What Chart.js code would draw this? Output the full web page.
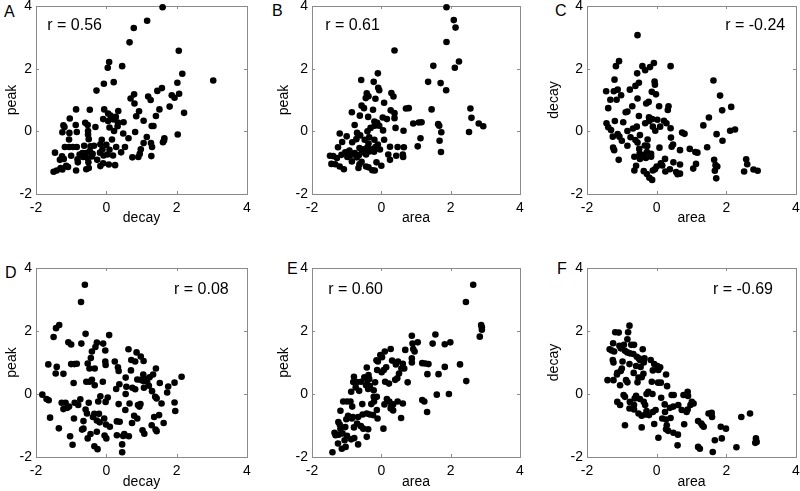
<!DOCTYPE html>
<html><head><meta charset="utf-8">
<script src="https://cdn.jsdelivr.net/npm/chart.js@4/dist/chart.umd.min.js"></script>
<style>
html,body{margin:0;padding:0;background:#fff;}
body{width:800px;height:491px;position:relative;overflow:hidden;font-family:"Liberation Sans",Arial,Helvetica,sans-serif;}
canvas{position:absolute;}
.letter{position:absolute;font-size:16px;line-height:16px;color:#000;}
</style></head>
<body>
<div class="letter" style="left:4px;top:4px">A</div>
<div class="letter" style="left:272px;top:3px">B</div>
<div class="letter" style="left:555px;top:3px">C</div>
<div class="letter" style="left:5px;top:265px">D</div>
<div class="letter" style="left:287px;top:261px">E</div>
<div class="letter" style="left:557px;top:261px">F</div>
<canvas id="cA"></canvas><canvas id="cB"></canvas><canvas id="cC"></canvas>
<canvas id="cD"></canvas><canvas id="cE"></canvas><canvas id="cF"></canvas>
<script>
// ---- data ----
const tickValues = [-2, 0, 2, 4];
const tickLabels = ['-2', '0', '2', '4'];
const axisNames = ['decay', 'area', 'peak'];
const rValues = ['r = 0.56', 'r = 0.61', 'r = -0.24', 'r = 0.08', 'r = 0.60', 'r = -0.69'];

// A: decay (x) vs peak (y)
const ptsA = [[1.60,3.96],[1.16,3.53],[0.78,3.30],[0.66,2.84],[2.06,2.57],[0.08,2.21],[0.45,2.08],[0.04,2.03],[2.16,1.84],[3.04,1.62],[0.21,1.57],[-0.07,1.52],[2.02,1.55],[-0.28,1.30],[1.58,1.38],[1.45,1.29],[2.07,1.20],[0.79,1.18],[0.69,1.05],[1.19,1.11],[1.26,1.00],[1.86,1.15],[1.94,1.07],[0.80,0.89],[1.80,0.79],[1.51,0.70],[0.93,0.64],[2.21,0.59],[0.85,0.48],[1.41,0.49],[1.06,0.34],[-0.86,0.70],[-0.47,0.69],[-0.06,0.70],[0.34,0.65],[0.05,0.57],[0.12,0.50],[0.27,0.46],[-1.04,0.41],[-0.09,0.39],[0.05,0.33],[0.21,0.38],[-1.22,0.19],[-1.19,0.14],[-0.87,0.20],[-0.60,0.27],[-0.53,0.20],[-0.31,0.14],[0.09,0.12],[0.32,0.16],[0.49,0.29],[0.33,0.28],[1.34,0.17],[1.29,0.17],[-1.25,-0.03],[-1.05,-0.05],[-0.84,-0.02],[-0.52,0.01],[-0.52,-0.10],[0.22,0.01],[0.48,-0.07],[0.82,-0.02],[0.63,-0.22],[1.15,-0.18],[1.65,-0.22],[2.03,-0.10],[1.64,-0.29],[1.61,-0.35],[-1.06,-0.26],[-0.50,-0.25],[-0.13,-0.27],[0.16,-0.26],[1.06,-0.37],[1.27,-0.37],[-1.18,-0.50],[-1.06,-0.50],[-0.95,-0.50],[-0.84,-0.50],[-0.63,-0.46],[-0.45,-0.48],[-0.35,-0.46],[-0.17,-0.41],[0.00,-0.43],[-0.11,-0.57],[0.09,-0.59],[0.28,-0.50],[0.53,-0.50],[0.98,-0.57],[1.30,-0.50],[-1.46,-0.68],[-1.26,-0.80],[-1.00,-0.78],[-0.76,-0.74],[-0.68,-0.69],[-0.58,-0.69],[-0.47,-0.63],[-0.39,-0.72],[-0.18,-0.68],[-0.08,-0.77],[0.03,-0.74],[0.19,-0.77],[0.42,-0.67],[0.95,-0.72],[0.74,-0.83],[0.91,-0.82],[1.28,-0.79],[-1.32,-0.91],[-1.21,-0.88],[-0.82,-0.89],[-0.66,-0.82],[-0.53,-0.86],[-0.41,-0.80],[-0.26,-0.91],[-0.81,-0.99],[-0.51,-0.99],[-0.09,-1.02],[0.07,-1.06],[0.25,-1.08],[-1.14,-1.10],[-1.09,-1.14],[-1.25,-1.22],[-1.41,-1.25],[-1.50,-1.29],[-0.86,-1.25],[-0.57,-1.21],[-0.50,-1.17],[-0.17,-1.11],[-1.30,-1.17]];

// B: area (x) vs peak (y)
const ptsB = [[1.88,3.96],[2.09,3.55],[2.14,3.31],[1.88,2.85],[0.38,2.58],[2.24,2.23],[1.50,2.09],[2.12,2.03],[-0.10,1.85],[-0.58,1.64],[-0.22,1.58],[1.35,1.58],[1.71,1.54],[-0.09,1.39],[-0.06,1.31],[1.87,1.31],[-0.42,1.21],[-0.37,1.12],[0.29,1.22],[0.35,1.11],[-0.17,1.04],[-0.45,1.06],[0.08,0.91],[-0.57,0.82],[-0.50,0.74],[-0.24,0.69],[-0.85,0.61],[0.27,0.67],[0.71,0.73],[0.79,0.74],[1.45,0.70],[2.57,0.73],[-0.62,0.50],[0.38,0.58],[0.38,0.42],[-0.38,0.46],[0.04,0.44],[0.16,0.39],[2.60,0.43],[-0.20,0.31],[-0.12,0.27],[-0.19,0.18],[-0.77,0.20],[-0.06,0.18],[0.92,0.25],[1.08,0.28],[1.16,0.29],[1.64,0.23],[1.67,0.18],[2.81,0.25],[2.94,0.16],[0.41,0.11],[0.64,0.02],[-0.40,0.00],[-0.31,0.11],[0.05,0.03],[2.53,-0.02],[1.73,-0.03],[-1.20,-0.07],[-1.00,-0.16],[-0.70,-0.05],[-0.48,-0.27],[-0.72,-0.25],[-0.61,-0.13],[-0.35,-0.19],[-0.20,-0.27],[0.08,-0.27],[1.13,-0.22],[1.68,-0.30],[-1.13,-0.34],[-0.84,-0.35],[-0.37,-0.39],[-0.10,-0.42],[0.25,-0.49],[0.47,-0.50],[0.65,-0.51],[1.05,-0.48],[-1.25,-0.51],[-0.63,-0.53],[-0.50,-0.57],[-0.40,-0.51],[-0.27,-0.57],[-0.17,-0.50],[-0.04,-0.58],[-0.92,-0.61],[-1.04,-0.67],[-0.77,-0.69],[-0.56,-0.67],[-0.35,-0.64],[-0.21,-0.65],[1.72,-0.66],[0.20,-0.74],[0.43,-0.78],[0.63,-0.82],[0.62,-0.74],[-1.15,-0.75],[-0.87,-0.75],[-0.65,-0.76],[-0.44,-0.74],[-1.48,-0.78],[-1.39,-0.79],[-0.98,-0.82],[-0.71,-0.83],[0.25,-0.91],[-1.28,-0.85],[-0.57,-0.97],[-0.14,-0.99],[-1.44,-1.04],[-1.33,-1.05],[-1.20,-1.12],[-1.08,-1.21],[-0.66,-1.17],[-0.44,-1.12],[-0.37,-1.15],[-0.26,-1.24],[-0.19,-1.25],[-0.85,-0.96],[-0.63,-1.05],[0.00,-1.10]];

// C: area (x) vs decay (y)
const ptsC = [[-0.55,3.07],[-1.08,2.24],[-1.17,2.08],[-0.41,2.08],[-0.19,2.05],[-0.08,2.18],[0.40,2.08],[-0.33,1.95],[-0.56,1.85],[-1.21,1.65],[-0.51,1.55],[-0.06,1.59],[-0.05,1.49],[1.63,1.62],[-0.61,1.45],[-1.45,1.28],[-1.23,1.28],[-1.12,1.33],[-0.77,1.33],[-1.02,1.15],[-0.14,1.26],[-0.02,1.18],[1.82,1.14],[-1.33,1.01],[-1.15,1.01],[-0.55,1.05],[-0.30,0.89],[-0.23,0.94],[-1.39,0.74],[-0.70,0.80],[0.07,0.80],[0.34,0.80],[0.32,0.68],[2.14,0.78],[1.88,0.67],[-0.84,0.63],[-0.89,0.61],[-0.51,0.49],[-0.22,0.45],[1.50,0.44],[-1.20,0.33],[-0.96,0.29],[-1.44,0.26],[-0.22,0.33],[-0.33,0.26],[-0.13,0.39],[0.02,0.37],[0.21,0.34],[0.28,0.26],[1.34,0.19],[-1.39,0.13],[-0.57,0.15],[-0.11,0.15],[0.10,0.15],[0.40,0.10],[-1.31,0.04],[-0.84,0.01],[-0.68,0.09],[-0.04,0.02],[2.11,0.02],[2.25,0.06],[0.73,-0.04],[0.80,-0.08],[1.72,-0.09],[-1.12,-0.09],[-1.07,-0.17],[-1.26,-0.17],[-0.48,-0.12],[0.41,-0.20],[1.89,-0.30],[-1.00,-0.30],[-0.75,-0.19],[-0.61,-0.28],[-0.26,-0.26],[-0.84,-0.46],[-0.55,-0.36],[-0.34,-0.45],[-0.27,-0.47],[0.43,-0.49],[0.47,-0.42],[-1.25,-0.52],[-1.22,-0.60],[-0.50,-0.56],[0.08,-0.52],[0.67,-0.60],[0.95,-0.56],[1.11,-0.66],[1.17,-0.68],[1.45,-0.51],[-0.49,-0.72],[-0.38,-0.75],[-0.28,-0.66],[-0.16,-0.72],[-1.09,-0.91],[-0.64,-0.81],[-0.48,-0.88],[-0.31,-0.85],[-0.16,-0.81],[0.24,-0.88],[1.65,-0.91],[2.57,-0.89],[0.12,-1.02],[0.16,-1.09],[0.48,-0.99],[0.67,-1.06],[1.13,-1.04],[-0.59,-1.10],[0.00,-1.12],[1.69,-1.08],[2.60,-1.05],[1.74,-1.12],[-0.05,-1.21],[0.38,-1.21],[0.56,-1.30],[0.60,-1.37],[0.67,-1.35],[-0.11,-1.25],[-0.64,-1.25],[-0.37,-1.27],[-0.28,-1.36],[-0.21,-1.48],[-0.13,-1.55],[0.25,-1.28],[1.05,-1.19],[1.67,-1.26],[1.71,-1.50],[2.51,-1.28],[2.78,-1.22],[2.90,-1.26]];

// D: decay (x) vs peak (y)
const ptsD = [[-0.61,3.47],[-0.72,2.92],[-1.34,2.19],[-1.43,2.09],[-1.50,1.81],[-0.59,1.91],[0.08,1.87],[-0.71,1.60],[-1.08,1.64],[-1.00,1.57],[-0.27,1.63],[-0.09,1.60],[-0.31,1.49],[-0.41,1.35],[-0.03,1.38],[0.63,1.42],[0.86,1.32],[-0.44,1.14],[0.98,1.19],[0.71,1.08],[0.82,1.03],[1.06,1.05],[-1.65,0.94],[-1.00,0.95],[-0.91,0.95],[-0.84,0.96],[-0.53,0.97],[-0.03,1.03],[-0.02,0.92],[0.24,1.03],[-1.41,0.86],[-0.33,0.81],[-0.48,0.81],[0.33,0.85],[0.35,0.73],[0.70,0.75],[1.41,0.81],[-1.44,0.65],[-1.22,0.64],[1.05,0.62],[1.33,0.62],[2.14,0.55],[1.23,0.53],[-0.41,0.45],[-0.57,0.39],[-0.48,0.39],[-0.10,0.39],[0.55,0.52],[0.88,0.46],[0.97,0.45],[1.05,0.41],[1.07,0.50],[1.16,0.39],[1.52,0.35],[1.94,0.36],[-0.93,0.35],[-0.33,0.28],[0.37,0.31],[0.57,0.23],[0.74,0.20],[0.82,0.15],[1.07,0.20],[1.21,0.26],[1.76,0.24],[1.73,0.05],[0.28,0.16],[1.30,0.09],[-1.82,-0.02],[-1.70,-0.16],[-1.64,-0.20],[-0.17,-0.07],[0.04,-0.11],[0.55,0.00],[1.39,-0.09],[1.43,-0.14],[-0.74,-0.17],[-0.50,-0.28],[-0.23,-0.24],[-0.02,-0.25],[-1.27,-0.28],[-1.16,-0.28],[-0.90,-0.28],[-0.80,-0.35],[0.35,-0.32],[0.66,-0.30],[0.97,-0.32],[1.57,-0.30],[1.94,-0.27],[-1.22,-0.48],[-1.11,-0.44],[-1.06,-0.40],[-0.59,-0.49],[-0.55,-0.62],[-0.34,-0.63],[-0.21,-0.63],[0.90,-0.35],[0.94,-0.40],[1.96,-0.54],[0.54,-0.51],[-1.60,-0.75],[-0.92,-0.78],[-0.38,-0.73],[-0.06,-0.78],[0.79,-0.69],[0.88,-0.78],[1.36,-0.73],[1.50,-0.67],[1.63,-0.92],[-0.65,-0.86],[-0.27,-0.84],[-0.19,-0.90],[0.30,-0.87],[0.38,-0.88],[0.73,-0.92],[-0.01,-0.97],[0.10,-1.04],[-0.65,-1.10],[-0.69,-1.13],[-1.35,-1.09],[1.29,-0.99],[1.40,-1.13],[1.43,-1.18],[1.03,-1.15],[1.08,-1.26],[-0.45,-1.27],[-0.27,-1.20],[-0.05,-1.32],[0.00,-1.41],[0.30,-1.31],[0.48,-1.33],[0.51,-1.27],[0.64,-1.34],[-1.03,-1.34],[-0.53,-1.41],[-0.96,-1.61],[-0.34,-1.66],[-0.25,-1.75],[0.45,-1.60],[0.45,-1.85]];

// E: area (x) vs peak (y)
const ptsE = [[2.65,3.47],[2.44,2.92],[2.88,2.19],[2.90,2.12],[2.90,2.04],[2.84,1.82],[1.56,1.89],[1.99,1.64],[1.48,1.60],[1.83,1.58],[0.88,1.85],[1.05,1.64],[0.90,1.60],[0.92,1.43],[0.96,1.35],[0.69,1.40],[0.27,1.43],[0.10,1.35],[-0.03,1.24],[0.02,1.17],[-0.14,1.07],[-0.10,1.03],[0.31,1.06],[0.48,1.03],[0.42,0.94],[0.62,0.96],[0.88,1.13],[0.88,1.00],[1.18,0.98],[1.27,0.97],[1.36,0.95],[2.27,0.94],[1.83,0.86],[-0.42,0.84],[0.07,0.76],[-0.12,0.76],[0.66,0.81],[0.58,0.81],[0.14,0.85],[0.01,0.69],[1.33,0.63],[1.65,0.63],[0.51,0.65],[-0.37,0.60],[-0.49,0.53],[-0.79,0.55],[-0.35,0.48],[-0.40,0.44],[0.40,0.45],[0.46,0.50],[0.11,0.39],[0.22,0.33],[-0.70,0.38],[-0.81,0.38],[-0.58,0.39],[-0.18,0.37],[0.76,0.37],[2.45,0.41],[-0.44,0.28],[-0.33,0.25],[-0.74,0.21],[-0.64,0.10],[-0.87,0.07],[-0.38,0.16],[-0.22,0.12],[1.60,-0.02],[1.95,0.00],[-0.22,-0.09],[-0.13,-0.09],[0.16,-0.16],[-1.10,-0.24],[-0.99,-0.24],[-0.89,-0.24],[-0.84,-0.40],[-0.55,-0.32],[-0.29,-0.32],[-0.21,-0.24],[0.09,-0.33],[0.23,-0.24],[0.34,-0.33],[0.47,-0.24],[0.62,-0.30],[1.18,-0.19],[1.24,-0.24],[0.27,-0.46],[0.34,-0.52],[0.28,-0.41],[-0.13,-0.51],[-1.18,-0.53],[-0.96,-0.69],[-1.01,-0.80],[-0.82,-0.73],[-0.85,-0.78],[-0.67,-0.73],[-0.54,-0.65],[-0.42,-0.62],[-0.33,-0.65],[-0.24,-0.67],[-0.11,-0.78],[0.57,-0.76],[1.32,-0.57],[-1.24,-0.89],[-1.20,-0.97],[-1.18,-1.10],[-1.04,-1.05],[-0.79,-1.06],[-0.70,-0.94],[-0.59,-1.02],[-0.52,-1.10],[-0.38,-1.12],[0.06,-1.10],[-1.35,-1.23],[-1.32,-1.31],[-1.23,-1.29],[-1.12,-1.25],[-0.99,-1.33],[-1.06,-1.47],[-0.87,-1.44],[-0.78,-1.40],[-0.42,-1.36],[-1.25,-1.57],[-1.14,-1.74],[-1.03,-1.68],[-0.67,-1.60],[-1.41,-1.85]];

// F: area (x) vs decay (y)
const ptsF = [[-0.78,2.17],[-1.19,1.96],[-1.09,1.95],[-0.82,1.96],[-1.25,1.61],[-0.84,1.74],[-0.94,1.56],[-0.73,1.56],[-1.07,1.53],[-1.35,1.42],[-1.29,1.38],[-1.22,1.35],[-1.03,1.45],[-0.91,1.37],[-0.84,1.32],[-0.65,1.56],[-0.67,1.27],[-0.77,1.29],[-0.57,1.18],[-0.40,1.42],[-0.48,1.08],[-0.51,1.13],[-0.35,1.13],[-0.37,1.00],[-0.17,1.08],[-1.26,1.08],[-1.24,1.00],[-0.98,1.03],[-0.78,0.95],[-0.07,0.95],[0.02,0.89],[0.10,0.85],[-1.00,0.81],[-0.59,0.89],[-0.46,0.86],[0.05,0.76],[-0.11,0.75],[-1.03,0.73],[-1.13,0.67],[-0.66,0.67],[-0.38,0.64],[-1.14,0.62],[0.27,0.62],[-0.52,0.52],[-0.43,0.53],[-1.24,0.44],[-1.41,0.44],[-0.88,0.44],[-0.84,0.37],[-0.55,0.37],[-0.14,0.39],[0.04,0.36],[0.12,0.36],[-1.05,0.28],[0.30,0.25],[-0.24,0.07],[-0.29,0.00],[-0.12,0.00],[-0.95,-0.03],[-0.91,-0.09],[-0.59,-0.06],[-0.63,-0.14],[-0.48,-0.16],[-0.37,-0.25],[-0.33,-0.35],[0.13,-0.12],[0.43,-0.03],[0.49,-0.03],[0.89,0.07],[0.90,-0.06],[1.01,-0.25],[1.06,-0.30],[0.97,-0.35],[0.89,-0.49],[0.86,-0.57],[0.77,-0.03],[-1.13,-0.25],[-1.05,-0.35],[-0.77,-0.25],[-0.65,-0.35],[-0.78,-0.46],[-0.65,-0.49],[-0.52,-0.62],[-0.43,-0.69],[-0.33,-0.65],[-0.22,-0.67],[-0.11,-0.57],[-0.03,-0.51],[-0.29,-0.54],[0.23,-0.33],[0.38,-0.44],[0.48,-0.40],[0.62,-0.35],[0.72,-0.51],[0.24,-0.57],[0.40,-0.76],[0.16,-0.78],[0.27,-0.81],[1.49,-0.62],[1.58,-0.60],[1.19,-0.86],[1.28,-0.94],[1.31,-0.99],[1.35,-1.04],[1.59,-0.73],[1.84,-1.04],[1.99,-1.10],[2.43,-0.73],[2.68,-0.62],[-0.91,-0.99],[-0.43,-1.06],[-0.07,-0.95],[0.29,-0.99],[0.79,-0.96],[0.27,-1.12],[0.33,-1.17],[0.48,-1.23],[0.61,-1.29],[0.05,-1.39],[0.60,-1.63],[1.19,-1.68],[1.24,-1.74],[1.61,-1.84],[1.67,-1.47],[1.87,-1.41],[2.29,-1.69],[2.85,-1.41],[2.87,-1.52],[2.83,-1.55]];

// ---- layout / style ----
const FONT = '"Liberation Sans", Arial, Helvetica, sans-serif';
const panels = [
  {id:'cA', pts:ptsA, xt:axisNames[0], yt:axisNames[2], r:rValues[0], cl:4,   ct:0,   cw:262, ch:227, yw:32, padTop:6,  padRight:19, xh:33, note:{x:-1.68, y:3.38, align:'left'}},
  {id:'cB', pts:ptsB, xt:axisNames[1], yt:axisNames[2], r:rValues[1], cl:276, ct:0,   cw:262, ch:227, yw:36, padTop:6,  padRight:18, xh:33, note:{x:-1.62, y:3.38, align:'left'}},
  {id:'cC', pts:ptsC, xt:axisNames[1], yt:axisNames[0], r:rValues[2], cl:546, ct:0,   cw:254, ch:227, yw:41, padTop:6,  padRight:4,  xh:33, note:{x:3.69, y:3.38, align:'right'}},
  {id:'cD', pts:ptsD, xt:axisNames[0], yt:axisNames[2], r:rValues[3], cl:4,   ct:245, cw:262, ch:246, yw:32, padTop:23, padRight:19, xh:34, note:{x:3.48, y:3.32, align:'right'}},
  {id:'cE', pts:ptsE, xt:axisNames[1], yt:axisNames[2], r:rValues[4], cl:276, ct:245, cw:262, ch:246, yw:36, padTop:23, padRight:18, xh:34, note:{x:-1.53, y:3.32, align:'left'}},
  {id:'cF', pts:ptsF, xt:axisNames[1], yt:axisNames[0], r:rValues[5], cl:546, ct:245, cw:254, ch:246, yw:41, padTop:23, padRight:4,  xh:34, note:{x:3.34, y:3.32, align:'right'}}
];

const framePlugin = {
  id: 'frame',
  beforeDatasetsDraw(chart) {
    const {ctx, chartArea: a, scales} = chart;
    ctx.save();
    ctx.strokeStyle = '#8a8a8a';
    ctx.lineWidth = 1;
    ctx.strokeRect(Math.round(a.left) + 0.5, Math.round(a.top) + 0.5, Math.round(a.right - a.left), Math.round(a.bottom - a.top));
    ctx.beginPath();
    const L = 3;
    tickValues.forEach(v => {
      const x = Math.round(scales.x.getPixelForValue(v)) + 0.5;
      ctx.moveTo(x, a.bottom); ctx.lineTo(x, a.bottom - L);
      ctx.moveTo(x, a.top); ctx.lineTo(x, a.top + L);
      const y = Math.round(scales.y.getPixelForValue(v)) + 0.5;
      ctx.moveTo(a.left, y); ctx.lineTo(a.left + L, y);
      ctx.moveTo(a.right, y); ctx.lineTo(a.right - L, y);
    });
    ctx.stroke();
    ctx.restore();
  },
  afterDatasetsDraw(chart, args, opts) {
    const n = opts.note;
    if (!n) return;
    const {ctx, scales} = chart;
    ctx.save();
    ctx.fillStyle = '#000';
    ctx.font = '16px ' + FONT;
    ctx.textAlign = n.align;
    ctx.textBaseline = 'middle';
    ctx.fillText(opts.text, scales.x.getPixelForValue(n.x), scales.y.getPixelForValue(n.y));
    ctx.restore();
  }
};

const tickFont = {family: FONT, size: 14};

panels.forEach(p => {
  const cv = document.getElementById(p.id);
  cv.width = p.cw; cv.height = p.ch;
  cv.style.left = p.cl + 'px'; cv.style.top = p.ct + 'px';
  cv.style.width = p.cw + 'px'; cv.style.height = p.ch + 'px';
  const setTicks = s => { s.ticks = tickValues.map(v => ({value: v})); };
  const lab = v => { const i = tickValues.indexOf(v); return i >= 0 ? tickLabels[i] : ''; };
  new Chart(cv, {
    type: 'scatter',
    data: {datasets: [{
      data: p.pts.map(q => ({x: q[0], y: q[1]})),
      backgroundColor: '#000', borderColor: '#000', borderWidth: 0,
      pointRadius: 3.3, pointHoverRadius: 3.3, clip: false
    }]},
    options: {
      responsive: false, animation: false, devicePixelRatio: 1,
      events: [],
      layout: {padding: {left: 0, top: p.padTop, right: p.padRight, bottom: 0}},
      plugins: {legend: {display: false}, tooltip: {enabled: false},
                frame: {note: p.note, text: p.r}},
      scales: {
        x: {type: 'linear', min: -2, max: 4, afterBuildTicks: setTicks,
            ticks: {font: tickFont, color: '#000', padding: 6, maxRotation: 0, autoSkip: false, callback: lab},
            grid: {display: false, drawTicks: false}, border: {display: false},
            title: {display: true, text: p.xt, font: tickFont, color: '#000', padding: 0},
            afterFit: s => { s.height = p.xh; s.paddingLeft = 0; s.paddingRight = 0; }},
        y: {type: 'linear', min: -2, max: 4, afterBuildTicks: setTicks,
            ticks: {font: tickFont, color: '#000', padding: 4, autoSkip: false, callback: lab},
            grid: {display: false, drawTicks: false}, border: {display: false},
            title: {display: true, text: p.yt, font: tickFont, color: '#000', padding: 0},
            afterFit: s => { s.width = p.yw; s.paddingTop = 0; s.paddingBottom = 0; }}
      }
    },
    plugins: [framePlugin]
  });
});
</script>
</body></html>
